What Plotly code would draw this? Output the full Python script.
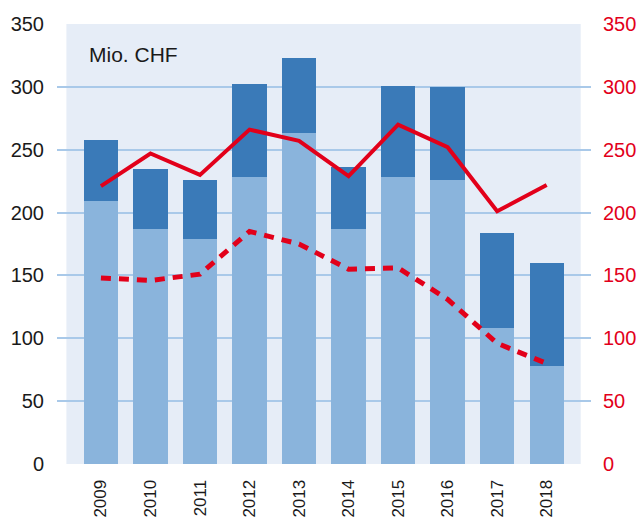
import plotly.graph_objects as go

years = ["2009", "2010", "2011", "2012", "2013", "2014", "2015", "2016", "2017", "2018"]
bar_lower = [209, 187, 179, 228, 263, 187, 228, 226, 108, 78]
bar_total = [258, 235, 226, 302, 323, 236, 301, 300, 184, 160]
bar_upper = [t - l for t, l in zip(bar_total, bar_lower)]
line_solid = [221, 247, 230, 266, 257, 229, 270, 252, 201, 222]
line_dashed = [148, 146, 151, 185, 175, 155, 156, 131, 96, 80]
y_ticks = [0, 50, 100, 150, 200, 250, 300, 350]

RED = "#e2001a"
xs = list(range(len(years)))

fig = go.Figure()
fig.add_trace(go.Bar(x=xs, y=bar_lower, marker=dict(color="#8ab4dc", line=dict(width=0)), width=0.693))
fig.add_trace(go.Bar(x=xs, y=bar_upper, marker=dict(color="#3a7ab8", line=dict(width=0)), width=0.693))
fig.add_trace(go.Scatter(x=xs, y=line_solid, mode="lines", yaxis="y2",
                         line=dict(color=RED, width=4)))
fig.add_trace(go.Scatter(x=xs, y=line_dashed, mode="lines", yaxis="y2",
                         line=dict(color=RED, width=5, dash="10px,8px")))

fig.add_shape(type="rect", xref="x", yref="y", x0=-0.697, x1=9.687, y0=0, y1=350,
              fillcolor="#e6edf7", line=dict(width=0), layer="below")

fig.add_annotation(text="Mio. CHF", xref="x", yref="y", x=-0.28, y=325.5,
                   xanchor="left", yanchor="middle", showarrow=False,
                   font=dict(size=21, color="#1a1a1a"))

fig.update_layout(
    width=642, height=521,
    margin=dict(l=57, r=51, t=24, b=57, autoexpand=False),
    paper_bgcolor="white", plot_bgcolor="white",
    barmode="stack", showlegend=False,
    font=dict(family="Liberation Sans, Arial, sans-serif"),
    xaxis=dict(range=[-0.887, 9.895], tickvals=xs, ticktext=years, tickangle=-90,
               showgrid=False, zeroline=False, showline=False, automargin=False,
               tickfont=dict(size=17, color="#1a1a1a"), ticks="outside",
               ticklen=8, tickcolor="rgba(0,0,0,0)"),
    yaxis=dict(range=[0, 350], tickvals=y_ticks, showgrid=True, gridcolor="#a9c9e9",
               gridwidth=1.5, zeroline=False, showline=False, automargin=False,
               tickfont=dict(size=20, color="#1a1a1a"), ticks="outside",
               ticklen=8, tickcolor="rgba(0,0,0,0)"),
    yaxis2=dict(range=[0, 350], tickvals=y_ticks, overlaying="y", side="right",
                showgrid=False, zeroline=False, showline=False, automargin=False,
                tickfont=dict(size=20, color=RED), ticks="outside",
                ticklen=7, tickcolor="rgba(0,0,0,0)"),
)

fig.write_html("out.html", config={"displayModeBar": False},
               post_script="document.body.style.margin='0';document.body.style.overflow='hidden';")
